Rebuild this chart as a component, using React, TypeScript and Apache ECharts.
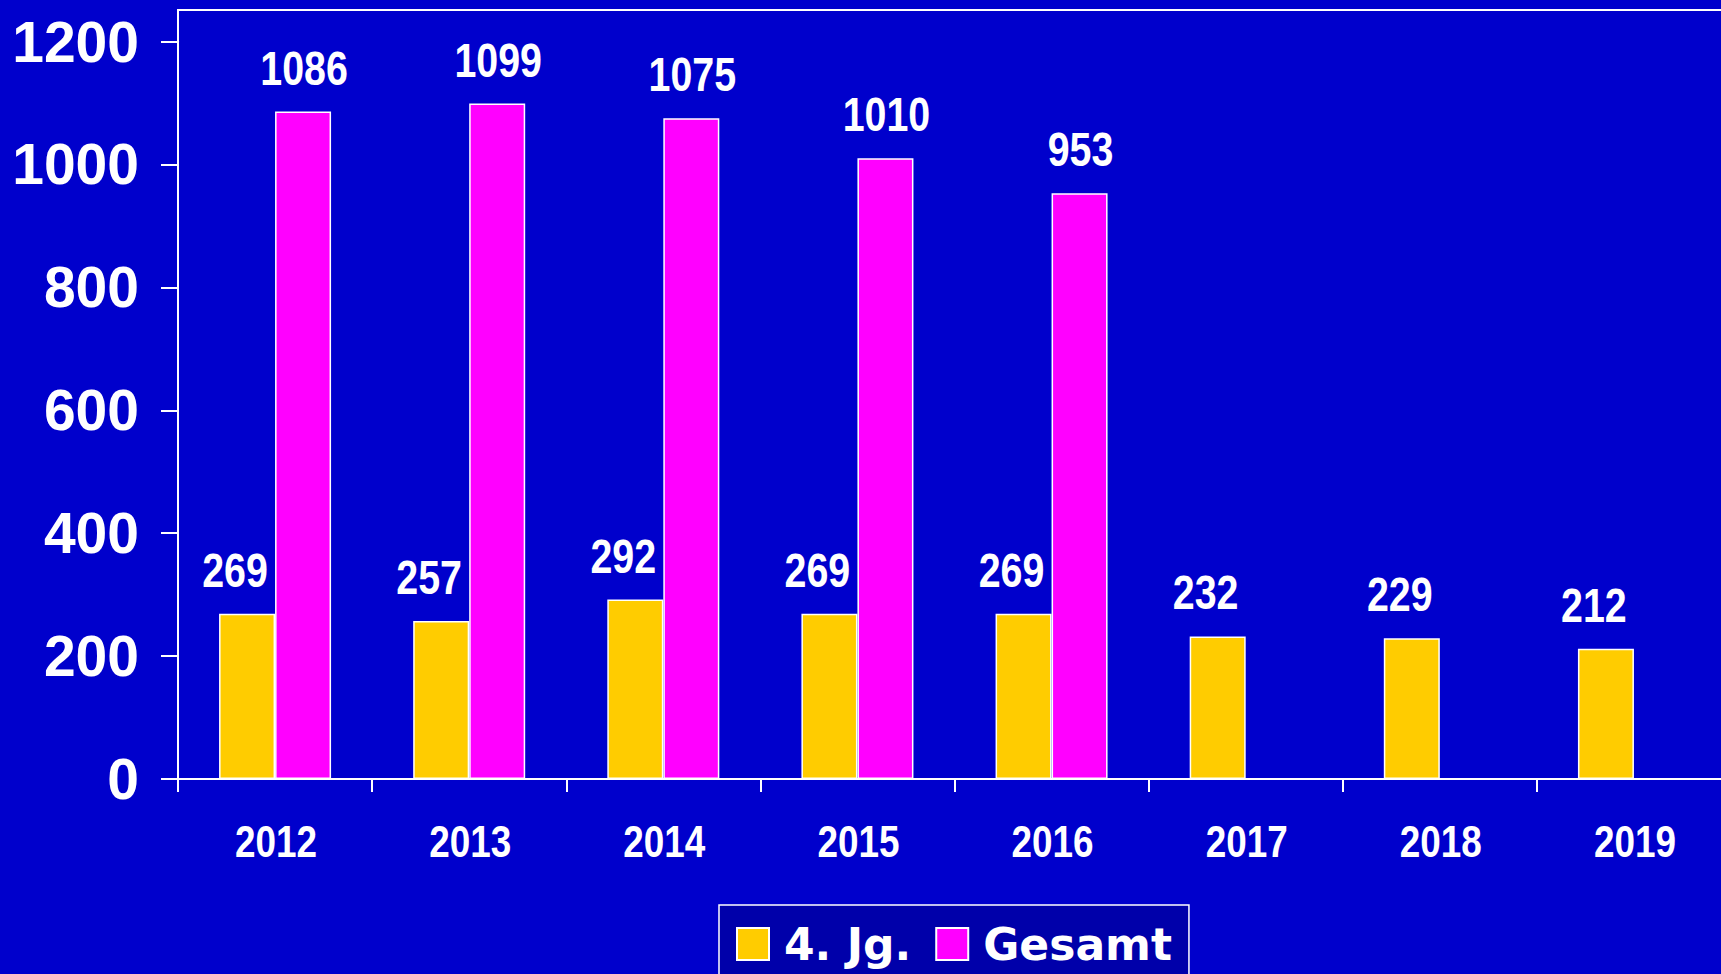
import React, { useEffect, useRef } from "react";
import * as echarts from "echarts";

const categories = ["2012", "2013", "2014", "2015", "2016", "2017", "2018", "2019"];
const seriesNames = ["4. Jg.", "Gesamt"];
const jgValues = [269, 257, 292, 269, 269, 232, 229, 212];
const gesamtValues: (number | null)[] = [1086, 1099, 1075, 1010, 953, null, null, null];
const yTicks = { min: 0, max: 1200, interval: 200 };

const BG = "#0000CC";
const YELLOW = "#FFCC00";
const MAGENTA = "#FF00FF";
const SANS = '"Liberation Sans", Arial, sans-serif';
const NARROW_SCALE = 0.82;

export default function App() {
  const ref = useRef<HTMLDivElement>(null);
  useEffect(() => {
    if (!ref.current) return;
    const chart = echarts.init(ref.current, null, { renderer: "svg" });

    const valueLabelSeries = (values: (number | null)[], dx: number) => ({
      type: "custom",
      z: 10,
      silent: true,
      clip: false,
      data: values
        .map((v, i) => (v == null ? null : [i, v]))
        .filter((d) => d !== null),
      encode: { x: 0, y: 1 },
      renderItem: (params: any, api: any) => {
        const pt = api.coord([api.value(0), api.value(1)]);
        return {
          type: "text",
          x: pt[0] + dx,
          y: pt[1] - 20,
          scaleX: NARROW_SCALE,
          style: {
            text: String(api.value(1)),
            fill: "#FFFFFF",
            font: `bold 48px ${SANS}`,
            align: "center",
            verticalAlign: "bottom",
          },
        };
      },
    });

    chart.setOption({
      animation: false,
      backgroundColor: BG,
      grid: { left: 178, top: 41.5, width: 1553, height: 737.5, containLabel: false },
      legend: {
        data: seriesNames,
        left: 719,
        top: 905,
        orient: "horizontal",
        padding: 17,
        itemGap: 24,
        itemWidth: 32,
        itemHeight: 32,
        backgroundColor: "#0000AA",
        borderColor: "#FFFFFF",
        borderWidth: 1.5,
        icon: "rect",
        textStyle: {
          color: "#FFFFFF",
          fontFamily: '"DejaVu Sans", Verdana, sans-serif',
          fontWeight: "bold",
          fontSize: 44,
          padding: [0, 0, 0, 10],
        },
      },
      xAxis: {
        type: "category",
        data: categories,
        axisLine: { show: true, lineStyle: { color: "#FFFFFF", width: 2 } },
        axisTick: { show: true, length: 13, lineStyle: { color: "#FFFFFF", width: 2 } },
        axisLabel: { show: false },
        splitLine: { show: false },
      },
      yAxis: {
        type: "value",
        min: yTicks.min,
        max: yTicks.max,
        interval: yTicks.interval,
        axisLine: { show: true, lineStyle: { color: "#FFFFFF", width: 2 } },
        axisTick: { show: true, length: 17, lineStyle: { color: "#FFFFFF", width: 2 } },
        axisLabel: {
          color: "#FFFFFF",
          fontFamily: SANS,
          fontWeight: "bold",
          fontSize: 57,
          margin: 39,
          formatter: (v: number) => String(v),
        },
        splitLine: { show: false },
      },
      graphic: [
        {
          type: "polyline",
          shape: { points: [[178, 42], [178, 10], [1760, 10]] },
          style: { stroke: "#FFFFFF", lineWidth: 2, fill: "none" },
          silent: true,
        },
      ],
      series: [
        {
          name: seriesNames[0],
          type: "bar",
          data: jgValues,
          barWidth: 56,
          barGap: "0%",
          itemStyle: { color: YELLOW, borderColor: "#FFFFFF", borderWidth: 1.5 },
        },
        {
          name: seriesNames[1],
          type: "bar",
          data: gesamtValues,
          barWidth: 56,
          barGap: "0%",
          itemStyle: { color: MAGENTA, borderColor: "#FFFFFF", borderWidth: 1.5 },
        },
        valueLabelSeries(jgValues, -40),
        valueLabelSeries(gesamtValues, 29),
        {
          type: "custom",
          z: 10,
          silent: true,
          clip: false,
          data: categories.map((c, i) => [i, 0]),
          encode: { x: 0, y: 1 },
          renderItem: (params: any, api: any) => {
            const pt = api.coord([api.value(0), 0]);
            return {
              type: "text",
              x: pt[0] + 1,
              y: pt[1] + 40,
              scaleX: NARROW_SCALE,
              style: {
                text: categories[params.dataIndex],
                fill: "#FFFFFF",
                font: `bold 45px ${SANS}`,
                align: "center",
                verticalAlign: "top",
              },
            };
          },
        },
      ],
    });
    return () => chart.dispose();
  }, []);

  return (
    <div
      style={{
        position: "fixed",
        left: 0,
        top: 0,
        width: 1721,
        height: 974,
        overflow: "hidden",
        background: BG,
      }}
    >
      <div ref={ref} style={{ position: "absolute", left: 0, top: 0, width: 1760, height: 974 }} />
    </div>
  );
}
